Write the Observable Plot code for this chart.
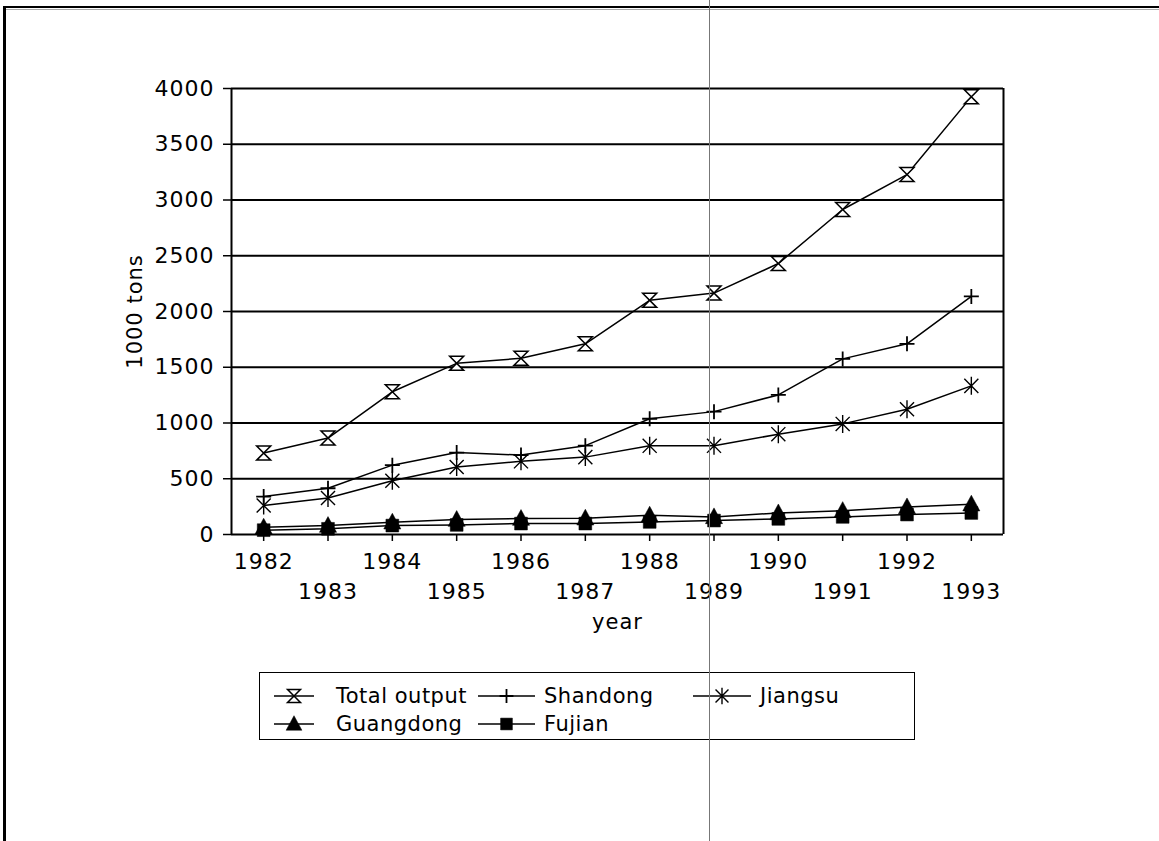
<!DOCTYPE html>
<html>
<head>
<meta charset="utf-8">
<script src="https://cdn.jsdelivr.net/npm/d3@7"></script>
<script src="https://cdn.jsdelivr.net/npm/@observablehq/plot@0.6"></script>
<style>
  html, body { margin: 0; padding: 0; background: #fff; }
  body { width: 1159px; height: 841px; position: relative; overflow: hidden; font-family: "DejaVu Sans", sans-serif; }
  #chart { position: absolute; left: 0; top: 0; }
  .border-top { position: absolute; left: 3px; top: 6px; width: 1156px; height: 2px; background: #000; }
  .border-top2 { position: absolute; left: 3px; top: 9px; width: 1156px; height: 1px; background: #aaa; }
  .border-left { position: absolute; left: 3px; top: 6px; width: 3px; height: 835px; background: #000; }
  .scanline { position: absolute; left: 709px; top: 0; width: 1px; height: 841px; background: #777; }
  #legend { position: absolute; left: 259px; top: 672px; width: 654px; height: 66px; border: 1.5px solid #000; background: #fff; }
  .item { position: absolute; display: flex; align-items: center; font-size: 21px; color: #000; white-space: nowrap; }
  .item svg { display: block; }
</style>
</head>
<body>
<div id="chart"></div>
<div id="legend"></div>
<div class="border-top"></div>
<div class="border-top2"></div>
<div class="border-left"></div>
<div class="scanline"></div>
<script>
// ---- data ----
const years = [1982, 1983, 1984, 1985, 1986, 1987, 1988, 1989, 1990, 1991, 1992, 1993];
const totalOutput = [730, 865, 1280, 1535, 1580, 1710, 2100, 2165, 2430, 2915, 3228, 3925];
const shandong = [340, 415, 622, 735, 712, 797, 1038, 1102, 1252, 1575, 1710, 2135];
const jiangsu = [260, 328, 482, 605, 656, 694, 795, 795, 900, 992, 1123, 1333];
const guangdong = [65, 80, 110, 134, 143, 146, 173, 158, 193, 214, 247, 272];
const fujian = [39, 51, 80, 86, 98, 98, 113, 125, 140, 158, 179, 193];
const seriesNames = ["Total output", "Shandong", "Jiangsu", "Guangdong", "Fujian"];
const yTicks = [0, 500, 1000, 1500, 2000, 2500, 3000, 3500, 4000];
const evenYears = [1982, 1984, 1986, 1988, 1990, 1992];
const oddYears = [1983, 1985, 1987, 1989, 1991, 1993];

// ---- custom marker symbols ----
const rad = s => Math.sqrt(s / Math.PI);
const hourglass = { draw(ctx, size) { const r = rad(size);
  ctx.moveTo(-r, -r); ctx.lineTo(r, -r); ctx.lineTo(-r, r); ctx.lineTo(r, r); ctx.closePath(); } };
const plusSym = { draw(ctx, size) { const r = rad(size);
  ctx.moveTo(0, -r); ctx.lineTo(0, r); ctx.moveTo(-r, 0); ctx.lineTo(r, 0); } };
const starSym = { draw(ctx, size) { const r = rad(size), k = r * 0.78;
  ctx.moveTo(0, -r); ctx.lineTo(0, r); ctx.moveTo(-k, -k); ctx.lineTo(k, k); ctx.moveTo(-k, k); ctx.lineTo(k, -k); } };
const triSym = { draw(ctx, size) { const r = rad(size);
  ctx.moveTo(0, -r); ctx.lineTo(r * 0.95, r * 0.75); ctx.lineTo(-r * 0.95, r * 0.75); ctx.closePath(); } };
const sqSym = { draw(ctx, size) { const r = rad(size) * 0.8;
  ctx.moveTo(-r, -r); ctx.lineTo(r, -r); ctx.lineTo(r, r); ctx.lineTo(-r, r); ctx.closePath(); } };

const seriesValues = [totalOutput, shandong, jiangsu, guangdong, fujian];
const styles = [
  { symbol: hourglass, r: 7, fill: "white", stroke: "black", strokeWidth: 1.5 },
  { symbol: plusSym, r: 7.5, fill: "none", stroke: "black", strokeWidth: 1.8 },
  { symbol: starSym, r: 9, fill: "none", stroke: "black", strokeWidth: 1.4 },
  { symbol: triSym, r: 9, fill: "black", stroke: "black", strokeWidth: 0.5 },
  { symbol: sqSym, r: 8, fill: "black", stroke: "black", strokeWidth: 0.5 }
];

const rows = [];
seriesNames.forEach((name, i) => years.forEach((yr, j) => rows.push({ series: name, idx: i, year: yr, value: seriesValues[i][j] })));

const lineMarks = seriesNames.map((name, i) =>
  Plot.line(rows.filter(d => d.idx === i), { x: "year", y: "value", stroke: "black", strokeWidth: 1.5 }));
const dotMarks = seriesNames.map((name, i) =>
  Plot.dot(rows.filter(d => d.idx === i), { x: "year", y: "value", ...styles[i] }));

const chart = Plot.plot({
  width: 1159,
  height: 650,
  marginLeft: 231,
  marginRight: 156,
  marginTop: 88,
  marginBottom: 116,
  style: { fontFamily: "DejaVu Sans, sans-serif", fontSize: "22px", color: "black", background: "transparent", overflow: "visible" },
  x: { domain: [1981.5, 1993.5] },
  y: { domain: [0, 4000] },
  marks: [
    Plot.ruleY(yTicks, { stroke: "black", strokeWidth: 2 }),
    Plot.ruleX([1981.5, 1993.5], { stroke: "black", strokeWidth: 2 }),
    Plot.axisY({ ticks: yTicks, tickSize: 8, tickPadding: 9, tickFormat: d => String(d), fontSize: 22, label: null, strokeWidth: 1.5 }),
    Plot.axisX({ ticks: evenYears, tickSize: 7, tickPadding: 12, tickFormat: d => String(d), fontSize: 22, label: null, strokeWidth: 1.5 }),
    Plot.axisX({ ticks: oddYears, tickSize: 7, tickPadding: 42, tickFormat: d => String(d), fontSize: 22, label: null, strokeWidth: 1.5 }),
    Plot.text(["year"], { frameAnchor: "bottom", dy: 94, fontSize: 21 }),
    Plot.text(["1000 tons"], { frameAnchor: "left", textAnchor: "middle", dx: -96, rotate: -90, fontSize: 21 }),
    ...lineMarks,
    ...dotMarks
  ]
});
chart.querySelectorAll("text").forEach(t => t.setAttribute("letter-spacing", "1"));
document.getElementById("chart").appendChild(chart);

// ---- legend ----
const legend = document.getElementById("legend");
const legendPos = [
  { left: 14, top: 23, w: 40 },
  { left: 218, top: 23, w: 57 },
  { left: 433, top: 23, w: 58 },
  { left: 14, top: 51, w: 40 },
  { left: 218, top: 51, w: 57 }
];
seriesNames.forEach((name, i) => {
  const p = legendPos[i];
  const item = document.createElement("div");
  item.className = "item";
  item.style.left = p.left + "px";
  item.style.top = (p.top - 13) + "px";
  const s = styles[i];
  const size = s.r * s.r * Math.PI * 0.85;
  const path = d3.path();
  s.symbol.draw(path, size);
  const h = 26, cx = p.w / 2;
  item.innerHTML =
    `<svg width="${p.w}" height="${h}"><line x1="0" x2="${p.w}" y1="${h/2}" y2="${h/2}" stroke="black" stroke-width="1.5"/>` +
    `<path transform="translate(${cx},${h/2})" d="${path.toString()}" fill="${s.fill}" stroke="${s.stroke}" stroke-width="${s.strokeWidth}"/></svg>` +
    `<span style="margin-left:${i === 0 || i === 3 ? 22 : 9}px;letter-spacing:0.5px">${name}</span>`;
  legend.appendChild(item);
});
</script>
</body>
</html>
